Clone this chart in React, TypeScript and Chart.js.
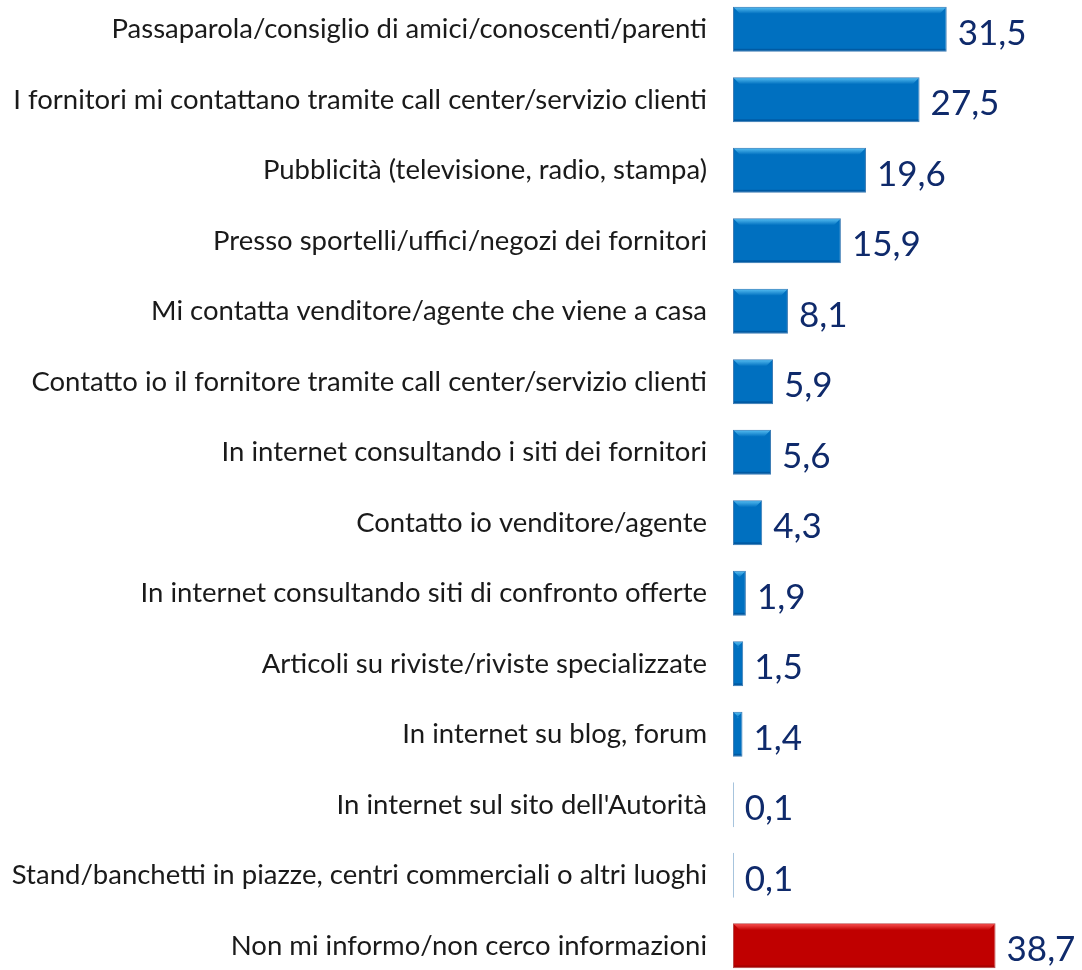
import React, { useEffect, useRef } from "react";
import { Chart, registerables } from "chart.js";

Chart.register(...registerables);

const categories: string[] = [
  "Passaparola/consiglio di amici/conoscenti/parenti",
  "I fornitori mi contattano tramite call center/servizio clienti",
  "Pubblicità (televisione, radio, stampa)",
  "Presso sportelli/uffici/negozi dei fornitori",
  "Mi contatta venditore/agente che viene a casa",
  "Contatto io il fornitore tramite call center/servizio clienti",
  "In internet consultando i siti dei fornitori",
  "Contatto io venditore/agente",
  "In internet consultando siti di confronto offerte",
  "Articoli su riviste/riviste specializzate",
  "In internet su blog, forum",
  "In internet sul sito dell'Autorità",
  "Stand/banchetti in piazze, centri commerciali o altri luoghi",
  "Non mi informo/non cerco informazioni",
];

const values: number[] = [31.5, 27.5, 19.6, 15.9, 8.1, 5.9, 5.6, 4.3, 1.9, 1.5, 1.4, 0.1, 0.1, 38.7];

const isRed: boolean[] = [false, false, false, false, false, false, false, false, false, false, false, false, false, true];

const BLUE = "#0070C0";
const BLUE_LIGHT = "#5CC3F5";
const BLUE_BORDER = "#3E7DB5";
const RED = "#C00000";
const RED_LIGHT = "#FF5A5A";
const RED_BORDER = "#B84A4A";
const LABEL_COLOR = "#0F2A6B";

export default function App() {
  const ref = useRef<HTMLCanvasElement | null>(null);

  useEffect(() => {
    document.body.style.margin = "0";
    const canvas = ref.current;
    if (!canvas) return;

    const bevelPlugin = {
      id: "bevel",
      afterDatasetsDraw(chart: any) {
        const ctx = chart.ctx;
        const meta = chart.getDatasetMeta(0);
        meta.data.forEach((el: any, i: number) => {
          const left = Math.min(el.base, el.x);
          const right = Math.max(el.base, el.x);
          const w = right - left;
          const h = el.height;
          const top = el.y - h / 2;
          const red = isRed[i];
          if (w > 4) {
            const bev = 7;
            const g = ctx.createLinearGradient(0, top, 0, top + bev);
            g.addColorStop(0, red ? RED_LIGHT : BLUE_LIGHT);
            g.addColorStop(1, red ? RED : BLUE);
            ctx.save();
            ctx.beginPath();
            ctx.moveTo(left + 1, top + 1);
            ctx.lineTo(right - 1, top + 1);
            ctx.lineTo(right - 1 - bev, top + 1 + bev);
            ctx.lineTo(left + 1 + bev, top + 1 + bev);
            ctx.closePath();
            ctx.fillStyle = g;
            ctx.fill();
            ctx.fillStyle = red ? "rgba(120,0,0,0.35)" : "rgba(0,50,110,0.35)";
            ctx.fillRect(left + 1, top + h - 3, w - 2, 2);
            ctx.restore();
          }
          ctx.save();
          ctx.font = "35px Lato";
          ctx.fillStyle = LABEL_COLOR;
          ctx.textAlign = "left";
          ctx.textBaseline = "middle";
          const txt = values[i].toFixed(1).replace(".", ",");
          ctx.fillText(txt, right + 11, el.y + 4);
          ctx.restore();
        });
      },
    };

    const chart = new Chart(canvas, {
      type: "bar",
      data: {
        labels: categories,
        datasets: [
          {
            data: values,
            backgroundColor: isRed.map((r) => (r ? RED : BLUE)),
            borderColor: isRed.map((r) => (r ? RED_BORDER : BLUE_BORDER)),
            borderWidth: 1,
            borderSkipped: false,
            categoryPercentage: 1,
            barPercentage: 0.64,
          },
        ],
      },
      options: {
        indexAxis: "y",
        animation: false,
        responsive: false,
        maintainAspectRatio: false,
        layout: { padding: 0 },
        plugins: {
          legend: { display: false },
          tooltip: { enabled: false },
          title: { display: false },
        },
        scales: {
          x: {
            display: false,
            min: 0,
            max: 51.44,
          },
          y: {
            position: "left",
            grid: { display: false, drawTicks: false },
            border: { display: false },
            ticks: {
              padding: 26,
              color: "#1A1A1A",
              font: { family: "Lato", size: 27.5 },
              autoSkip: false,
            },
            afterFit(scale: any) {
              scale.width = 733;
              scale.paddingTop = 0;
              scale.paddingBottom = 0;
            },
          },
        },
      },
      plugins: [bevelPlugin],
    });

    return () => chart.destroy();
  }, []);

  return (
    <div style={{ position: "fixed", left: 0, top: 0, width: 1082, height: 970, overflow: "hidden", background: "#fff" }}>
      <canvas
        ref={ref}
        width={1082}
        height={987}
        style={{ position: "absolute", left: 0, top: -6, width: 1082, height: 987 }}
      />
    </div>
  );
}
